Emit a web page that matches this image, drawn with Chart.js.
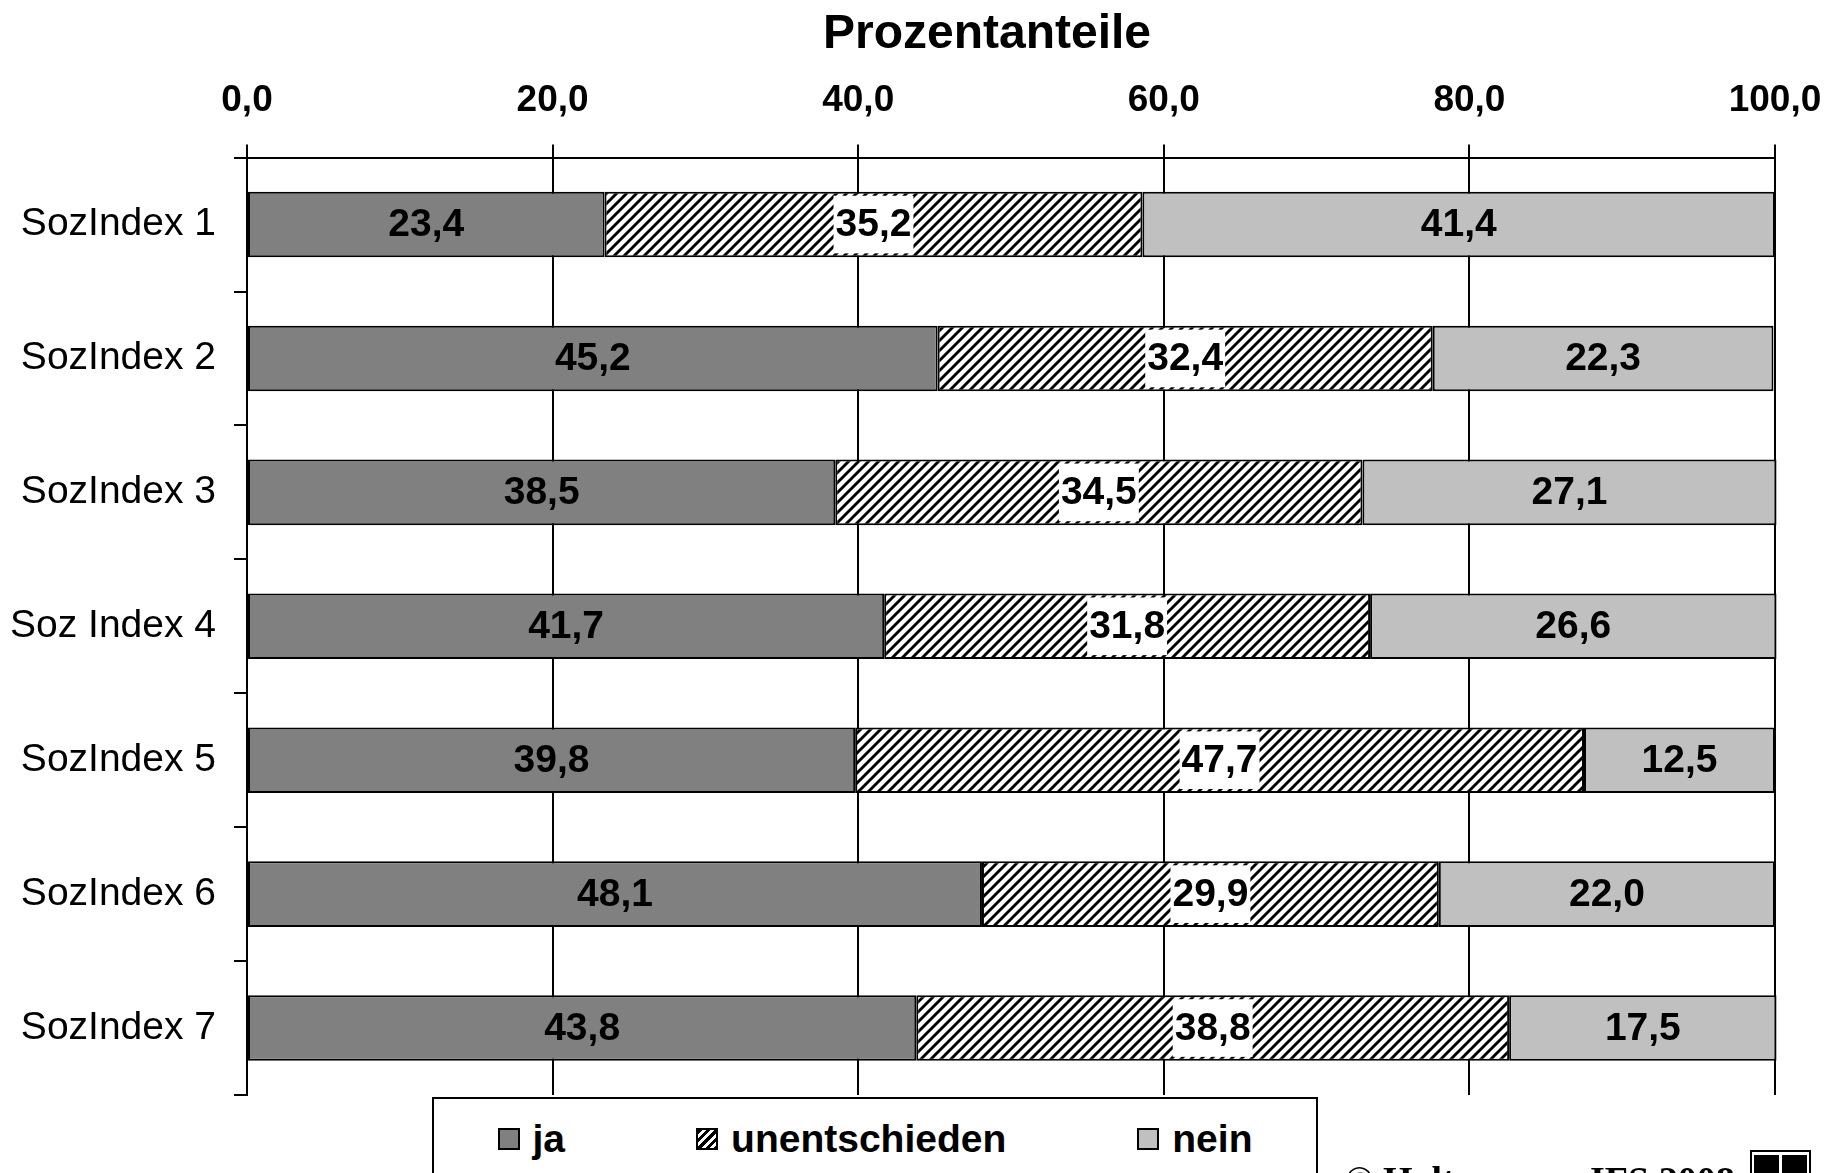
<!DOCTYPE html>
<html lang="de">
<head>
<meta charset="utf-8">
<title>Prozentanteile</title>
<script src="https://cdn.jsdelivr.net/npm/chart.js@4.4.1/dist/chart.umd.min.js"></script>
<style>
  html, body { margin: 0; padding: 0; background: #fff; overflow: hidden; }
  #wrap { position: relative; width: 1829px; height: 1173px; }
  #legend {
    position: absolute; left: 432px; top: 1097px; width: 886px; height: 200px;
    border: 2px solid #000; background: #fff; box-sizing: border-box;
    display: flex; justify-content: center; align-items: flex-start; gap: 131px;
    padding-top: 17px;
    font: bold 39px "Liberation Sans", Arial, sans-serif; line-height: 46px;
  }
  .item { display: flex; align-items: center; }
  .swatch { width: 22px; height: 22px; border: 2px solid #000; box-sizing: border-box; margin-right: 13px; }
  .copy { position: absolute; top: 1161px; font: bold 38px "Liberation Serif", "Times New Roman", serif; line-height: 1; white-space: nowrap; }
  #logo { position: absolute; left: 1750px; top: 1150px; width: 61px; height: 40px; border: 2px solid #000; box-sizing: border-box; }
  #logo div { position: absolute; top: 3px; width: 25px; height: 40px; background: #000; }
</style>
</head>
<body>
<div id="wrap">
  <canvas id="chart"></canvas>
  <div id="legend"></div>
  <div class="copy" style="left:1345px">© Holtmann</div>
  <div class="copy" style="left:1590px">IFS 2008</div>
  <div id="logo"><div style="left:2px"></div><div style="left:30px"></div></div>
</div>
<script>
// values (percent)
const categories = ['SozIndex 1', 'SozIndex 2', 'SozIndex 3', 'Soz Index 4', 'SozIndex 5', 'SozIndex 6', 'SozIndex 7'];
const jaValues = [23.4, 45.2, 38.5, 41.7, 39.8, 48.1, 43.8];
const unentschiedenValues = [35.2, 32.4, 34.5, 31.8, 47.7, 29.9, 38.8];
const neinValues = [41.4, 22.3, 27.1, 26.6, 12.5, 22.0, 17.5];
const seriesNames = ['ja', 'unentschieden', 'nein'];
const xTicks = [0, 20, 40, 60, 80, 100];
const titleText = 'Prozentanteile';

const FONT = '"Liberation Sans", Arial, sans-serif';
Chart.defaults.font.family = FONT;
Chart.defaults.color = '#000';

const fmt = v => v.toFixed(1).replace('.', ',');

// diagonal hatch for "unentschieden"
function makeHatch() {
    const c = document.createElement('canvas');
    c.width = 10; c.height = 10;
    const g = c.getContext('2d');
    g.fillStyle = '#fff';
    g.fillRect(0, 0, 10, 10);
    g.strokeStyle = '#000';
    g.lineWidth = 2.9;
    g.beginPath();
    g.moveTo(-5, 5); g.lineTo(5, -5);
    g.moveTo(0, 10); g.lineTo(10, 0);
    g.moveTo(5, 15); g.lineTo(15, 5);
    g.stroke();
    return g.createPattern(c, 'repeat');
}

// value labels inside the segments, white box behind the hatched ones
const valueLabels = {
    id: 'valueLabels',
    afterDatasetsDraw(chart) {
        const ctx = chart.ctx;
        ctx.save();
        ctx.font = 'bold 39px ' + FONT;
        ctx.textAlign = 'center';
        ctx.textBaseline = 'middle';
        chart.data.datasets.forEach((ds, di) => {
            chart.getDatasetMeta(di).data.forEach((bar, i) => {
                const p = bar.getProps(['x', 'base', 'y', 'height'], true);
                const cx = (p.x + p.base) / 2;
                const txt = fmt(ds.data[i]);
                if (ds.labelBox) {
                    const w = ctx.measureText(txt).width + 4;
                    ctx.fillStyle = '#fff';
                    ctx.fillRect(cx - w / 2, p.y - p.height / 2 + 4, w, p.height - 8);
                }
                ctx.fillStyle = '#000';
                ctx.fillText(txt, cx, p.y + 1);
            });
        });
        ctx.restore();
    }
};

const hatch = makeHatch();
const colors = ['#808080', hatch, '#c0c0c0'];
const values = [jaValues, unentschiedenValues, neinValues];

const datasets = seriesNames.map((name, i) => ({
    label: name,
    data: values[i],
    backgroundColor: colors[i],
    borderColor: '#000',
    borderWidth: 2,
    borderSkipped: false,
    barPercentage: 0.49,
    categoryPercentage: 1,
    clip: 4,
    labelBox: i === 1
}));

const canvas = document.getElementById('chart');
canvas.width = 1829;
canvas.height = 1173;

const chart = new Chart(canvas.getContext('2d'), {
    type: 'bar',
    data: { labels: categories, datasets: datasets },
    options: {
        indexAxis: 'y',
        responsive: false,
        animation: false,
        layout: { padding: { left: 0, right: 54, top: 0, bottom: 78 } },
        scales: {
            x: {
                type: 'linear',
                position: 'top',
                stacked: true,
                min: 0,
                max: 100,
                afterBuildTicks: s => { s.ticks = xTicks.map(v => ({ value: v })); },
                afterFit: s => { s.height = 94; },
                ticks: {
                    font: { size: 37, weight: 'bold', lineHeight: 2.17 },
                    color: '#000',
                    padding: 4,
                    maxRotation: 0,
                    callback: v => fmt(v)
                },
                grid: { color: '#000', lineWidth: 2, tickLength: 13 },
                border: { display: true, color: '#000', width: 2 }
            },
            y: {
                type: 'category',
                stacked: true,
                afterFit: s => { s.width = 247; },
                ticks: { font: { size: 39 }, color: '#000', padding: 18 },
                grid: { drawOnChartArea: false, color: '#000', lineWidth: 2, tickLength: 13, offset: true },
                border: { display: true, color: '#000', width: 2 }
            }
        },
        plugins: {
            legend: { display: false },
            tooltip: { enabled: false },
            title: {
                display: true,
                fullSize: false,
                // trailing em space nudges the centred title a little to the left, as in the original
                text: titleText + '\u2003',
                font: { size: 48, weight: 'bold' },
                color: '#000',
                padding: { top: 6, bottom: 0 }
            }
        }
    },
    plugins: [valueLabels]
});

// legend box built from the datasets
const legendEl = document.getElementById('legend');
chart.data.datasets.forEach((ds, i) => {
    const item = document.createElement('div');
    item.className = 'item';
    const sw = document.createElement('span');
    sw.className = 'swatch';
    if (i === 1) {
        sw.style.background = 'repeating-linear-gradient(135deg, #000 0 3px, #fff 3px 6px)';
    } else {
        sw.style.background = ds.backgroundColor;
    }
    item.appendChild(sw);
    item.appendChild(document.createTextNode(ds.label));
    legendEl.appendChild(item);
});
</script>
</body>
</html>
